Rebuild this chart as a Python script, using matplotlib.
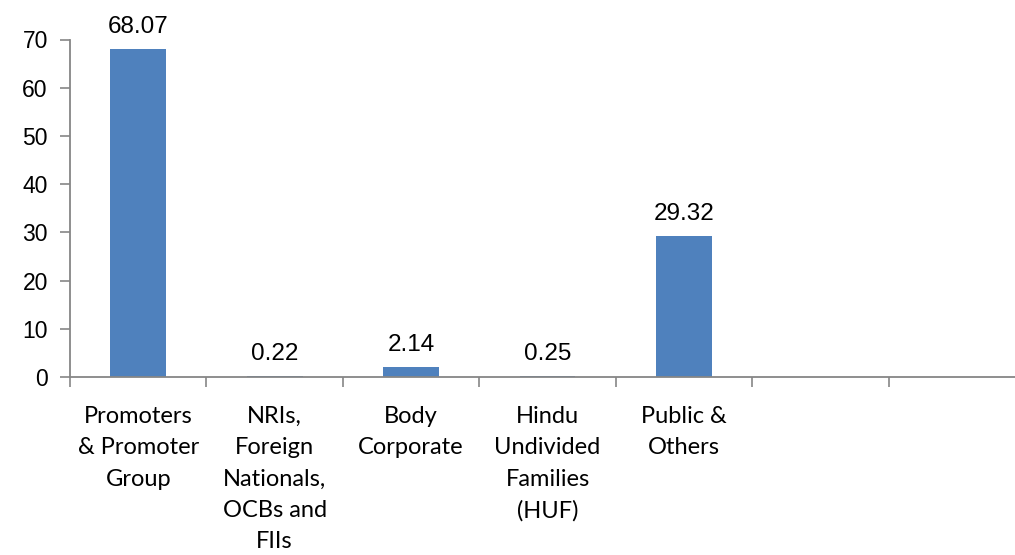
import numpy as np
import matplotlib.pyplot as plt

categories = ["Promoters\n& Promoter\nGroup",
              "NRIs,\nForeign\nNationals,\nOCBs and\nFIIs",
              "Body\nCorporate",
              "Hindu\nUndivided\nFamilies\n(HUF)",
              "Public &\nOthers"]
values = [68.07, 0.22, 2.14, 0.25, 29.32]
n_slots = 7
yticks = [0, 10, 20, 30, 40, 50, 60, 70]

fig = plt.figure(figsize=(10.15, 5.55), dpi=100)
ax = fig.add_axes([70 / 1015, 1 - 377 / 555, 955 / 1015, 337.5 / 555])

x = np.arange(len(values))
bars = ax.bar(x, values, width=0.41, color='#4F81BD', zorder=2)

# value labels above bars
for xi, v in zip(x, values):
    ax.annotate(f"{v:.2f}", (xi, v), xytext=(0, 8), textcoords='offset points',
                ha='center', va='bottom', fontsize=17.5, family='Liberation Sans')

ax.set_xlim(-0.5, n_slots - 0.5)
ax.set_ylim(0, 70)
ax.set_yticks(yticks)

# tick marks between categories, labels at centres
ax.set_xticks(np.arange(-0.5, n_slots, 1.0))
ax.set_xticklabels([])
ax.set_xticks(x, minor=True)
ax.set_xticklabels(categories, minor=True, fontsize=17, family='Lato', linespacing=1.6)
ax.tick_params(axis='x', which='major', length=7, color='#868686', width=1.2, direction='out')
ax.tick_params(axis='x', which='minor', length=0, pad=21)
ax.tick_params(axis='y', length=7, color='#868686', width=1.2, direction='out', pad=9)
for lbl in ax.get_yticklabels():
    lbl.set_fontsize(16.5)
    lbl.set_family('Liberation Sans')

for side in ['top', 'right']:
    ax.spines[side].set_visible(False)
for side in ['left', 'bottom']:
    ax.spines[side].set_color('#868686')
    ax.spines[side].set_linewidth(1.3)

fig.savefig('out.png', dpi=100)
